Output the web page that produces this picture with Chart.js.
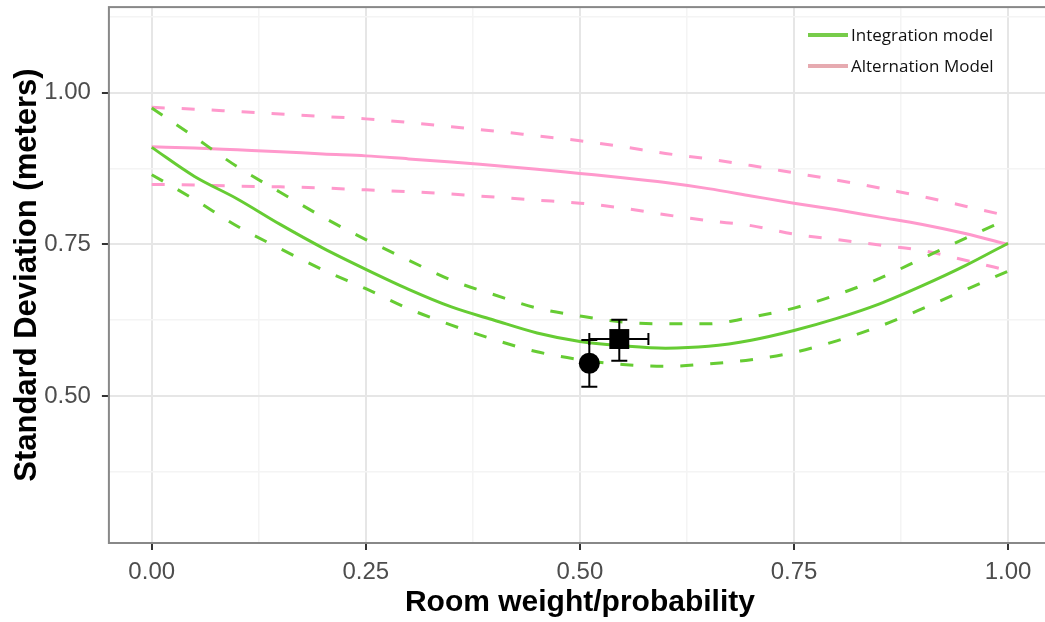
<!DOCTYPE html>
<html>
<head>
<meta charset="utf-8">
<title>Standard deviation vs room weight</title>
<script src="https://cdn.jsdelivr.net/npm/chart.js@4.4.1/dist/chart.umd.min.js"></script>
<style>
  html, body { margin: 0; padding: 0; background: #fff; overflow: hidden; }
  #wrap { position: relative; width: 1065px; height: 622px; overflow: hidden; }
  #sdChart { display: block; position: absolute; left: 0; top: -7px; }
  .legend { position: absolute; left: 808px; top: 19px; font-family: "Open Sans", sans-serif; font-size: 17px; color: #111; }
  .legend .row { display: flex; align-items: center; height: 31px; }
  .legend .swatch { display: inline-block; width: 40px; height: 4px; margin-right: 3px; }
</style>
</head>
<body>
<div id="wrap">
  <canvas id="sdChart" width="1065" height="629"></canvas>
  <div class="legend">
    <div class="row"><span class="swatch" style="background:#77cc4a"></span>Integration model</div>
    <div class="row"><span class="swatch" style="background:#e6aab0"></span>Alternation Model</div>
  </div>
</div>
<script>
// room weight / probability
const xVals = [0, 0.05, 0.1, 0.15, 0.2, 0.25, 0.3, 0.35, 0.4, 0.45, 0.5,
               0.55, 0.6, 0.65, 0.7, 0.75, 0.8, 0.85, 0.9, 0.95, 1.0];

// integration model (green)
const integrationMean  = [0.910, 0.862, 0.825, 0.783, 0.744, 0.709, 0.676, 0.647, 0.625, 0.604, 0.590,
                          0.583, 0.579, 0.582, 0.592, 0.608, 0.628, 0.652, 0.682, 0.715, 0.752];
const integrationUpper = [0.975, 0.927, 0.878, 0.836, 0.795, 0.758, 0.724, 0.691, 0.667, 0.645, 0.632,
                          0.622, 0.619, 0.619, 0.630, 0.645, 0.667, 0.694, 0.727, 0.760, 0.792];
const integrationLower = [0.865, 0.824, 0.780, 0.743, 0.708, 0.677, 0.644, 0.617, 0.593, 0.573, 0.560,
                          0.552, 0.549, 0.553, 0.560, 0.572, 0.591, 0.615, 0.644, 0.675, 0.706];

// alternation model (pink)
const alternationMean  = [0.911, 0.909, 0.906, 0.903, 0.899, 0.896, 0.891, 0.886, 0.880, 0.874, 0.867,
                          0.860, 0.852, 0.842, 0.830, 0.818, 0.807, 0.795, 0.783, 0.768, 0.750];
const alternationUpper = [0.976, 0.973, 0.969, 0.965, 0.961, 0.957, 0.951, 0.944, 0.937, 0.929, 0.921,
                          0.911, 0.900, 0.891, 0.880, 0.868, 0.856, 0.843, 0.829, 0.813, 0.797];
const alternationLower = [0.849, 0.848, 0.846, 0.845, 0.843, 0.840, 0.837, 0.833, 0.828, 0.823, 0.818,
                          0.810, 0.799, 0.789, 0.781, 0.767, 0.758, 0.749, 0.740, 0.724, 0.707];

// observed data points with error bars
const obsX     = [0.511, 0.546];
const obsY     = [0.554, 0.594];
const obsYLow  = [0.5155, 0.558];
const obsYHigh = [0.5925, 0.626];
const obsXLow  = [null, 0.511];
const obsXHigh = [null, 0.580];
const obsShape = ['circle', 'rect'];

// grid / tick values
const xTicks = [0, 0.125, 0.25, 0.375, 0.5, 0.625, 0.75, 0.875, 1.0];
const xMajor = [0, 0.25, 0.5, 0.75, 1.0];
const yTicks = [0.375, 0.5, 0.625, 0.75, 0.875, 1.0, 1.125];
const yMajor = [0.5, 0.75, 1.0];

const GREEN = '#66cc33';
const PINK = '#ff99cc';

function toPoints(ys) {
    return xVals.map(function(x, i) { return { x: x, y: ys[i] }; });
}

function isMajor(list, v) {
    return list.some(function(m) { return Math.abs(m - v) < 1e-9; });
}

function lineSet(label, ys, color, dashed) {
    return {
        label: label,
        data: toPoints(ys),
        borderColor: color,
        borderWidth: 3,
        borderDash: dashed ? [13, 17] : [],
        pointRadius: 0,
        fill: false,
        cubicInterpolationMode: 'monotone'
    };
}

// error bars drawn on top of everything
const errorBars = {
    id: 'errorBars',
    afterDatasetsDraw: function(chart) {
        const ctx = chart.ctx;
        const xs = chart.scales.x, ys = chart.scales.y;
        ctx.save();
        ctx.strokeStyle = '#000';
        ctx.lineWidth = 2;
        for (let i = 0; i < obsX.length; i++) {
            const px = xs.getPixelForValue(obsX[i]);
            const py = ys.getPixelForValue(obsY[i]);
            const top = ys.getPixelForValue(obsYHigh[i]);
            const bot = ys.getPixelForValue(obsYLow[i]);
            ctx.beginPath();
            ctx.moveTo(px, top); ctx.lineTo(px, bot);
            ctx.moveTo(px - 8, top); ctx.lineTo(px + 8, top);
            ctx.moveTo(px - 8, bot); ctx.lineTo(px + 8, bot);
            if (obsXLow[i] !== null) {
                const left = xs.getPixelForValue(obsXLow[i]);
                const right = xs.getPixelForValue(obsXHigh[i]);
                ctx.moveTo(left, py); ctx.lineTo(right, py);
                ctx.moveTo(left, py - 6); ctx.lineTo(left, py + 6);
                ctx.moveTo(right, py - 6); ctx.lineTo(right, py + 6);
            }
            ctx.stroke();
        }
        ctx.restore();
    }
};

// panel border
const panelFrame = {
    id: 'panelFrame',
    beforeDatasetsDraw: function(chart) {
        const a = chart.chartArea;
        const ctx = chart.ctx;
        ctx.save();
        ctx.strokeStyle = '#888';
        ctx.lineWidth = 2;
        ctx.strokeRect(a.left, a.top, a.right - a.left, a.bottom - a.top);
        ctx.restore();
    }
};

const tickFont = { family: '"Liberation Sans", Arial, sans-serif', size: 24 };

new Chart(document.getElementById('sdChart'), {
    type: 'line',
    data: {
        datasets: [
            {
                label: 'Observed',
                type: 'scatter',
                data: obsX.map(function(x, i) { return { x: x, y: obsY[i] }; }),
                pointStyle: obsShape,
                pointRadius: [10.5, 14.1],
                pointBackgroundColor: '#000',
                pointBorderColor: '#000',
                pointBorderWidth: 0,
                showLine: false
            },
            lineSet('Integration model', integrationMean, GREEN, false),
            lineSet('Integration upper', integrationUpper, GREEN, true),
            lineSet('Integration lower', integrationLower, GREEN, true),
            lineSet('Alternation Model', alternationMean, PINK, false),
            lineSet('Alternation upper', alternationUpper, PINK, true),
            lineSet('Alternation lower', alternationLower, PINK, true)
        ]
    },
    options: {
        responsive: false,
        animation: false,
        devicePixelRatio: 1,
        layout: { padding: { left: 0, top: 7, right: 9.5, bottom: 0 } },
        plugins: {
            legend: { display: false },
            tooltip: { enabled: false }
        },
        scales: {
            x: {
                type: 'linear',
                min: -0.05,
                max: 1.05,
                afterBuildTicks: function(scale) {
                    scale.ticks = xTicks.map(function(v) { return { value: v }; });
                },
                afterFit: function(scale) { scale.height = 79; },
                border: { display: false },
                grid: {
                    color: function(c) { return isMajor(xMajor, c.tick.value) ? '#e6e6e6' : '#f4f4f4'; },
                    lineWidth: function(c) { return isMajor(xMajor, c.tick.value) ? 2 : 1.5; },
                    tickColor: function(c) { return isMajor(xMajor, c.tick.value) ? '#333' : 'rgba(0,0,0,0)'; },
                    tickWidth: 2,
                    tickLength: 7
                },
                ticks: {
                    autoSkip: false,
                    maxRotation: 0,
                    padding: 8,
                    color: '#4d4d4d',
                    font: tickFont,
                    callback: function(v) { return isMajor(xMajor, v) ? v.toFixed(2) : ''; }
                },
                title: {
                    display: true,
                    text: 'Room weight/probability',
                    color: '#000',
                    font: { family: '"Liberation Sans", Arial, sans-serif', size: 30, weight: 'bold' },
                    padding: { top: 0, bottom: 1 }
                }
            },
            y: {
                type: 'linear',
                min: 0.2577,
                max: 1.1413,
                afterBuildTicks: function(scale) {
                    scale.ticks = yTicks.map(function(v) { return { value: v }; });
                },
                afterFit: function(scale) {
                    scale.width = 108.9;
                    scale.paddingTop = 0;
                    scale.paddingBottom = 0;
                },
                border: { display: false },
                grid: {
                    color: function(c) { return isMajor(yMajor, c.tick.value) ? '#e6e6e6' : '#f4f4f4'; },
                    lineWidth: function(c) { return isMajor(yMajor, c.tick.value) ? 2 : 1.5; },
                    tickColor: function(c) { return isMajor(yMajor, c.tick.value) ? '#333' : 'rgba(0,0,0,0)'; },
                    tickWidth: 2,
                    tickLength: 7
                },
                ticks: {
                    autoSkip: false,
                    padding: 11,
                    color: '#4d4d4d',
                    font: tickFont,
                    callback: function(v) { return isMajor(yMajor, v) ? v.toFixed(2) : ''; }
                },
                title: {
                    display: true,
                    text: 'Standard Deviation (meters)',
                    color: '#000',
                    font: { family: '"Liberation Sans", Arial, sans-serif', size: 31, weight: 'bold' },
                    padding: { top: 9, bottom: 0 }
                }
            }
        }
    },
    plugins: [panelFrame, errorBars]
});
</script>
</body>
</html>
